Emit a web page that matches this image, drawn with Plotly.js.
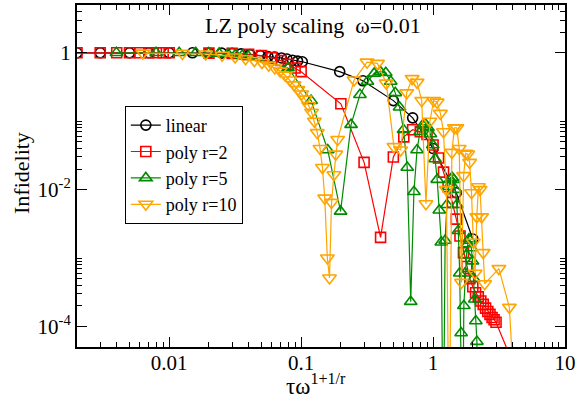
<!DOCTYPE html>
<html>
<head>
<meta charset="utf-8">
<script src="https://cdn.plot.ly/plotly-3.0.1.min.js"></script>
<style>html,body{margin:0;padding:0;background:#fff;}#chart{width:576px;height:401px;}</style>
</head>
<body>
<div id="chart"></div>
<script>
// ---- data ----
const linearX = [0.002,0.003,0.005,0.007,0.01,0.015,0.02,0.025,0.03,0.035,0.041,0.049,0.056,0.063,0.071,0.078,0.086,0.094,0.102,0.196,0.294,0.5,0.7,1.0,1.5,2.0];
const linearY = [1,1,1,1,1,1,0.995,0.99,0.98,0.965,0.94,0.91,0.88,0.865,0.84,0.81,0.78,0.755,0.74,0.53,0.39,0.2,0.112,0.04,0.009,0.0019];

const r2X = [0.002,0.003,0.004,0.005,0.006,0.007,0.008,0.009,0.01,0.02,0.03,0.04,0.05,0.06,0.07,0.08,0.09,0.1,0.2,0.3,0.4,0.5,0.6,0.7,0.8,0.9,1.0,1.1,1.2,1.3,1.4,1.5,1.6,1.7,1.8,1.9,2.0,2.1,2.2,2.3,2.4,2.5,2.6,2.7,2.8,2.9,3.0,4.0];
const r2Y = [1,1,1,1,1,1,1,1,1,0.99,0.98,0.95,0.91,0.85,0.77,0.68,0.6,0.53,0.18,0.025,0.002,0.03,0.059,0.075,0.07,0.064,0.045,0.029,0.018,0.011,0.0065,0.0037,0.0021,0.0012,7.5e-4,5e-4,3.8e-4,3.1e-4,2.7e-4,2.35e-4,2.1e-4,1.85e-4,1.65e-4,1.5e-4,1.35e-4,1.25e-4,1.15e-4,3e-5];

const r5X = [0.00398,0.00796,0.0119,0.0159,0.0199,0.0239,0.0279,0.0318,0.0358,0.0398,0.0796,0.119,0.159,0.199,0.239,0.279,0.318,0.358,0.398,0.438,0.478,0.517,0.557,0.597,0.637,0.677,0.716,0.756,0.796,0.836,0.876,0.915,0.955,0.995,1.035,1.075,1.114,1.154,1.194,1.234,1.273,1.313,1.353,1.393,1.433,1.473,1.512,1.552,1.592,1.632,1.672,1.711,1.751,1.791,1.831,1.871,1.910,1.950,1.990,2.030,2.070,2.109,2.149,2.189];
const r5Y = [1,1,1,1,0.99,0.98,0.96,0.94,0.91,0.88,0.6,0.2,0.038,0.0048,0.089,0.244,0.38,0.5,0.53,0.51,0.38,0.26,0.16,0.075,0.021,2.3e-4,0.0093,0.038,0.07,0.088,0.09,0.08,0.065,0.045,0.028,0.014,0.005,0.0017,1e-6,0.0018,0.006,0.011,0.014,0.015,0.014,0.01,0.006,0.0025,6e-4,8e-5,1e-6,2e-4,6e-4,1.1e-3,1.6e-3,1.9e-3,1.8e-3,1.4e-3,9e-4,5e-4,2.5e-4,1.2e-4,6e-5,1e-6];

const r10X = [0.00631,0.0126,0.0189,0.0252,0.0316,0.0379,0.0442,0.0505,0.0568,0.0631,0.0694,0.0757,0.082,0.0883,0.0946,0.101,0.107,0.114,0.12,0.126,0.1325,0.139,0.145,0.151,0.158,0.164,0.170,0.177,0.183,0.189,0.252,0.316,0.379,0.442,0.505,0.568,0.631,0.694,0.757,0.820,0.883,0.946,1.01,1.073,1.136,1.199,1.262,1.325,1.388,1.451,1.514,1.578,1.641,1.704,1.767,1.830,1.893,1.956,2.019,2.082,2.145,2.208,2.271,2.334,2.397,2.461,3.155,3.786,4.417];
const r10Y = [0.99,0.98,0.96,0.92,0.87,0.82,0.77,0.72,0.66,0.6,0.54,0.47,0.4,0.34,0.29,0.25,0.21,0.17,0.135,0.1,0.068,0.04,0.021,0.0075,0.001,5.1e-4,0.0065,0.0165,0.033,0.054,0.4,0.73,0.7,0.36,0.0425,0.038,0.26,0.42,0.37,0.2,0.0062,0.1,0.2,0.19,0.13,0.07,0.01,1e-6,0.035,0.08,0.08,0.04,4.4e-4,0.016,0.034,0.033,0.025,0.009,0.0017,6e-4,0.004,0.011,0.01,0.004,0.0012,4.2e-4,7e-4,1.9e-4,1e-6];

const seriesNames = ['linear','poly r=2','poly r=5','poly r=10'];
const xTickVals = [0.01,0.1,1,10];
const xTickText = ['0.01','0.1','1','10'];
const yTickVals = [1e-4,1e-2,1];
const yTickText = ['10<sup>-4</sup>','10<sup>-2</sup>','1'];
const titleText = 'LZ poly scaling\u00a0\u00a0ω=0.01';
const xTitleText = 'τω<sup>1+1/r</sup>';
const yTitleText = 'Infidelity';

// ---- styling ----
const FONT = 'Liberation Serif';
const colors = ['#000000','#ff0000','#008b00','#ffa500'];
const symbols = ['circle-open','square-open','triangle-up-open','triangle-down-open'];
const sizes = [10,10,11,12];
const xs = [linearX,r2X,r5X,r10X];
const ys = [linearY,r2Y,r5Y,r10Y];

const traces = xs.map((x,i)=>({
  x: x, y: ys[i], name: seriesNames[i],
  type:'scatter', mode:'lines+markers',
  line:{color:colors[i], width:1.2},
  marker:{symbol:symbols[i], size:sizes[i], color:colors[i], line:{color:colors[i], width:1.6}}
}));

function minorTicks(decades, mults){
  const out=[];
  decades.forEach(d=>mults.forEach(m=>out.push(m*d)));
  return out;
}
const xMinor = minorTicks([0.001,0.01,0.1,1],[2,3,4,5,6,7,8,9]);
const yMinor = minorTicks([1e-4,1e-2],[2,3,4,5,6,7,8,9,10]).concat([2,3,4]);

function axisBase(){
  return {
    type:'log', showgrid:false, zeroline:false,
    showline:true, linewidth:2, linecolor:'#000', mirror:'ticks',
    ticks:'inside', ticklen:10, tickwidth:1, tickcolor:'#000',
    tickmode:'array',
    tickfont:{family:FONT, size:21, color:'#000'}
  };
}

const layout = {
  width:576, height:401,
  font:{family:FONT, size:21, color:'#000'},
  margin:{l:77, r:11, t:5, b:54},
  paper_bgcolor:'#fff', plot_bgcolor:'#fff',
  showlegend:true,
  xaxis: Object.assign(axisBase(), {
    range:[Math.log10(0.002), 1],
    tickvals:xTickVals, ticktext:xTickText,
    ticklabelstandoff:-4,
    minor:{tickmode:'array', tickvals:xMinor, ticks:'inside', ticklen:5, tickwidth:1, tickcolor:'#000', showgrid:false}
  }),
  yaxis: Object.assign(axisBase(), {
    range:[Math.log10(5e-5), Math.log10(5)],
    tickvals:yTickVals, ticktext:yTickText,
    minor:{tickmode:'array', tickvals:yMinor, ticks:'inside', ticklen:5, tickwidth:1, tickcolor:'#000', showgrid:false}
  }),
  legend:{
    x:0.098, y:0.705, xanchor:'left', yanchor:'top',
    bordercolor:'#000', borderwidth:1, bgcolor:'#fff',
    font:{family:FONT, size:18, color:'#000'},
    tracegroupgap:0
  },
  annotations:[
    {text:titleText, xref:'paper', yref:'paper', x:0.4846, y:0.9415, xanchor:'center', yanchor:'middle',
     showarrow:false, font:{family:FONT, size:22, color:'#000'}},
    {text:xTitleText, xref:'paper', yref:'paper', x:(316-77)/488, y:-(384-347)/342, xanchor:'center', yanchor:'middle',
     showarrow:false, font:{family:FONT, size:23, color:'#000'}},
    {text:yTitleText, xref:'paper', yref:'paper', x:-(77-21)/488, y:1-(173-5)/342, xanchor:'center', yanchor:'middle',
     textangle:-90, showarrow:false, font:{family:FONT, size:22, color:'#000'}}
  ]
};

Plotly.newPlot('chart', traces, layout, {displayModeBar:false, staticPlot:true});
</script>
</body>
</html>
